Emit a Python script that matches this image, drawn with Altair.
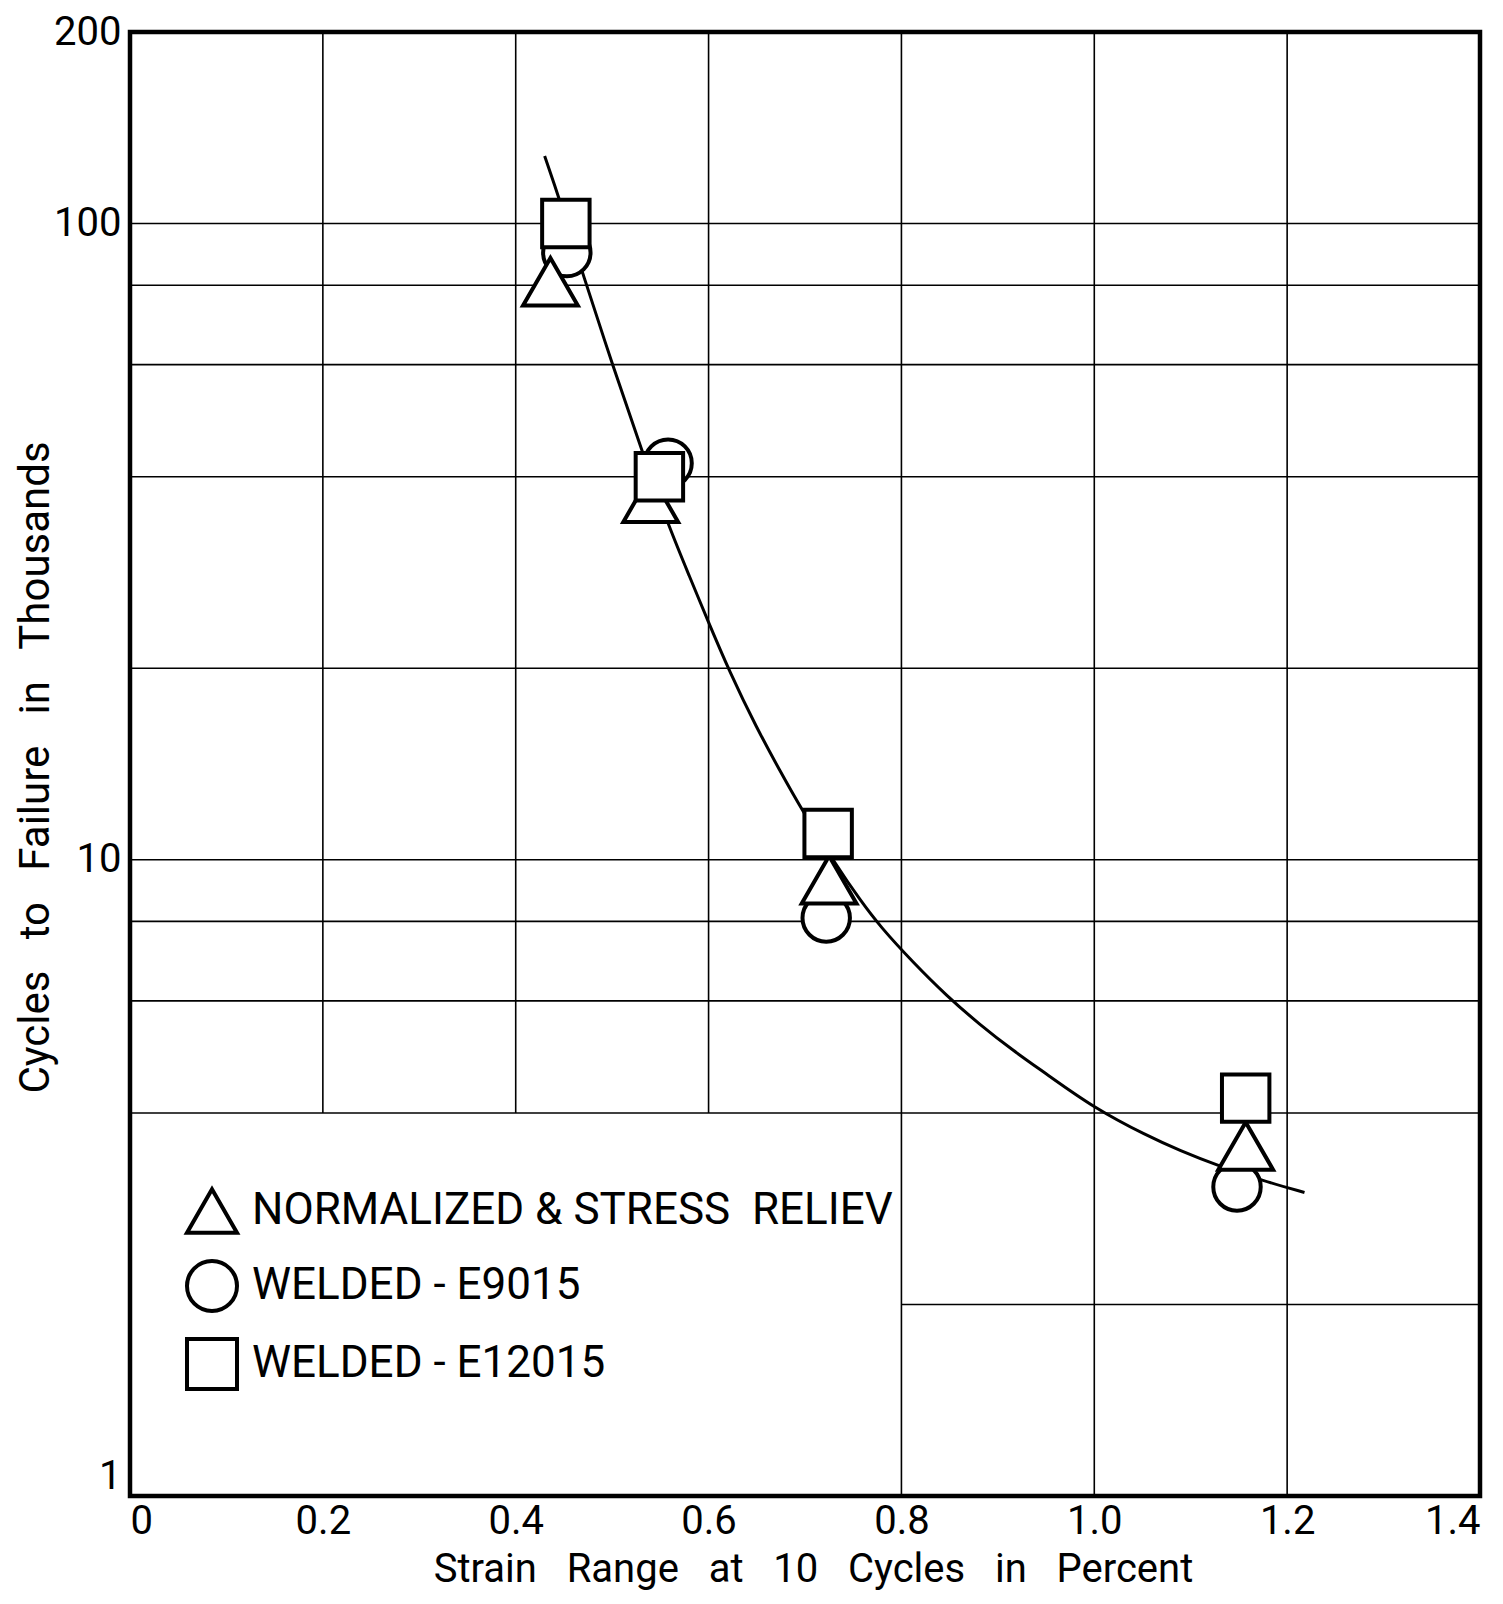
import altair as alt
import pandas as pd

FONT = "Roboto"
NB = "\u00a0"

# ---- series / legend ----
series_names = [
    "NORMALIZED & STRESS" + NB + NB + "RELIEV",
    "WELDED" + NB + "-" + NB + "E9015",
    "WELDED" + NB + "-" + NB + "E12015",
]
series_shapes = ["triangle-up", "circle", "square"]
series_sizes = [3000, 2250, 2250]

# ---- data points (strain range %, cycles to failure in thousands) ----
norm_x = [0.436, 0.540, 0.725, 1.157]
norm_y = [81.0, 37.0, 9.3, 3.55]
e9015_x = [0.453, 0.558, 0.722, 1.148]
e9015_y = [90.0, 42.0, 8.1, 3.06]
e12015_x = [0.452, 0.549, 0.724, 1.157]
e12015_y = [100.0, 40.0, 11.0, 4.22]

# ---- fitted curve ----
curve_x = [0.430, 0.446, 0.470, 0.501, 0.531, 0.557, 0.581, 0.598, 0.622, 0.650,
           0.674, 0.697, 0.733, 0.757, 0.778, 0.812, 0.847, 0.881, 0.916, 0.951,
           0.999, 1.055, 1.089, 1.127, 1.175, 1.218]
curve_y = [127.7, 108.6, 82.9, 59.6, 43.9, 33.9, 27.7, 24.0, 19.7, 16.1,
           13.8, 11.96, 9.77, 8.65, 7.85, 6.90, 6.11, 5.51, 5.01, 4.60,
           4.08, 3.68, 3.49, 3.31, 3.13, 3.00]

# ---- axes ticks ----
x_ticks = [0, 0.2, 0.4, 0.6, 0.8, 1.0, 1.2, 1.4]
y_ticks = [1, 10, 100, 200]

# ---- grid lines (as drawn on the graph paper) ----
vgrid_x = [0.2, 0.4, 0.6, 0.8, 1.0, 1.2]
vgrid_ylo = [4, 4, 4, 1, 1, 1]
vgrid_yhi = [200, 200, 200, 200, 200, 200]
hgrid_y = [2, 4, 6, 8, 10, 20, 40, 60, 80, 100]
hgrid_xlo = [0.8, 0, 0, 0, 0, 0, 0, 0, 0, 0]
hgrid_xhi = [1.4] * 10

# ---- tables ----
series_data = [(norm_x, norm_y), (e9015_x, e9015_y), (e12015_x, e12015_y)]
series_frames = []
for i, (sx, sy) in enumerate(series_data):
    series_frames.append(pd.DataFrame({"x": sx, "y": sy, "series": [series_names[i]] * len(sx)}))
curve = pd.DataFrame({"x": curve_x, "y": curve_y})
vgrid = pd.DataFrame({"x": vgrid_x, "y": vgrid_ylo, "y2": vgrid_yhi})
hgrid = pd.DataFrame({"y": hgrid_y, "x": hgrid_xlo, "x2": hgrid_xhi})

xs = alt.Scale(domain=[0, 1.4], nice=False, zero=False)
ys = alt.Scale(type="log", domain=[1, 200], nice=False)

x_title = NB.join(["Strain", "", "", "Range", "", "", "at", "", "", "10", "", "", "Cycles", "", "", "in", "", "", "Percent"])
y_title = NB.join(["Cycles", "", "", "to", "", "", "Failure", "", "", "in", "", "", "Thousands"])

x_axis = alt.Axis(
    values=x_ticks,
    labelExpr="datum.value == 0 ? '0' : format(datum.value, '.1f')",
    labelFlush=True,
    labelPadding=5,
    labelFont=FONT, labelFontSize=40, labelColor="black",
    ticks=False, domain=False, grid=False,
    title=x_title, titleFont=FONT, titleFontSize=40, titleFontWeight="normal",
    titleColor="black", titleX=683, titleY=73, titleAlign="center", titleBaseline="middle",
)
y_axis = alt.Axis(
    values=y_ticks,
    labelExpr="format(datum.value, 'd')",
    labelPadding=9,
    labelFont=FONT, labelFontSize=40, labelColor="black",
    labelBaseline={"condition": {"test": "datum.value == 1", "value": "bottom"}, "value": "middle"},
    ticks=False, domain=False, grid=False,
    title=y_title, titleFont=FONT, titleFontSize=42, titleFontWeight="normal",
    titleColor="black", titleX=-95, titleY=735, titleAlign="center", titleBaseline="middle",
)

legend = alt.Legend(
    title=None, orient="none", legendX=55, legendY=1152,
    labelFont=FONT, labelFontSize=44, labelColor="black", labelLimit=1000,
    labelOffset=13, rowPadding=12, padding=0,
    symbolSize=2500, symbolStrokeWidth=4,
)
shape_enc = alt.Shape(
    "series:N", scale=alt.Scale(domain=series_names, range=series_shapes), legend=legend
)

vrules = alt.Chart(vgrid).mark_rule(color="black", strokeWidth=1.6).encode(
    x=alt.X("x:Q", scale=xs, axis=x_axis),
    y=alt.Y("y:Q", scale=ys, axis=y_axis),
    y2="y2:Q",
)
hrules = alt.Chart(hgrid).mark_rule(color="black", strokeWidth=1.6).encode(
    x=alt.X("x:Q", scale=xs, axis=x_axis),
    x2="x2:Q",
    y=alt.Y("y:Q", scale=ys, axis=y_axis),
)
line = alt.Chart(curve).mark_line(interpolate="basis", color="black", strokeWidth=3).encode(
    x=alt.X("x:Q", scale=xs, axis=x_axis),
    y=alt.Y("y:Q", scale=ys, axis=y_axis),
)

# draw order: circles, triangles, squares on top
point_layers = []
for i in [1, 0, 2]:
    point_layers.append(
        alt.Chart(series_frames[i]).mark_point(
            filled=False, color="black", fill="white",
            strokeWidth=4, opacity=1, fillOpacity=1, size=series_sizes[i],
        ).encode(
            x=alt.X("x:Q", scale=xs, axis=x_axis),
            y=alt.Y("y:Q", scale=ys, axis=y_axis),
            shape=shape_enc,
        )
    )

chart = alt.layer(vrules, hrules, line, *point_layers).properties(
    width=1350, height=1464,
    autosize=alt.AutoSizeParams(type="none"),
    padding={"left": 122, "top": 24, "right": 15, "bottom": 96},
    background="white",
).configure_view(stroke="black", strokeWidth=4.5)

chart.save("out.html", embed_options={"renderer": "svg", "actions": False})
